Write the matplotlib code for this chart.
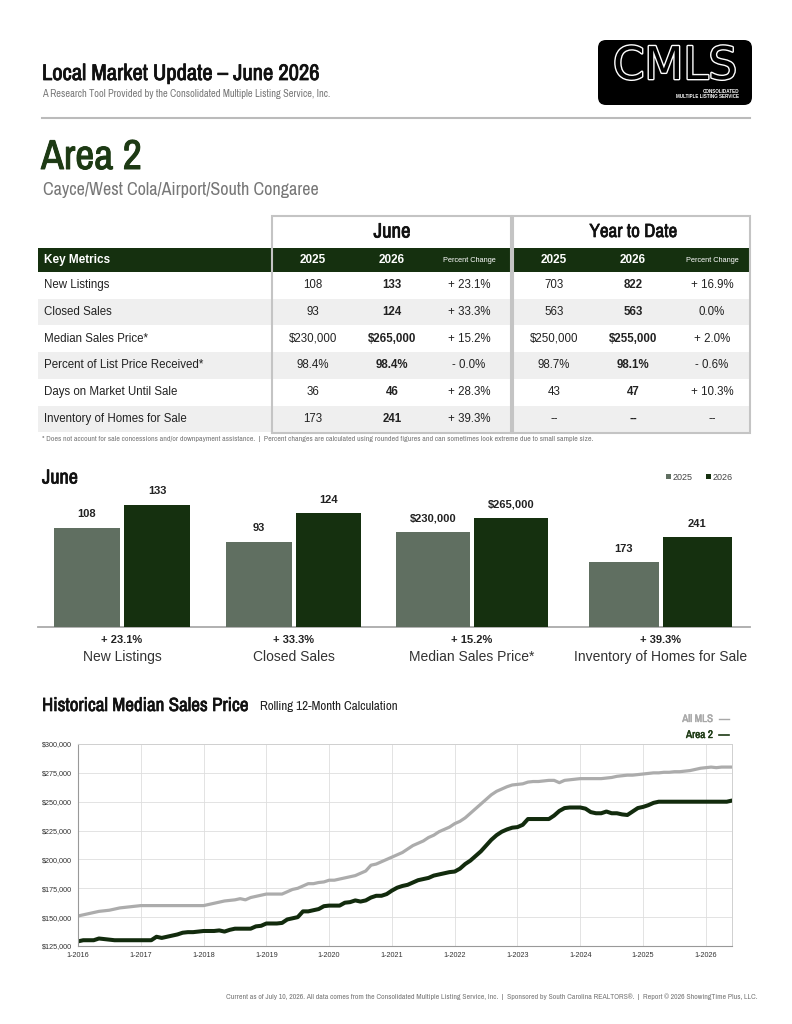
import numpy as np
import matplotlib.pyplot as plt
from matplotlib import font_manager
from matplotlib.font_manager import FontProperties
from matplotlib.patches import Rectangle, FancyBboxPatch
import matplotlib.patheffects as pe

# look for a condensed face for the headings, fall back to Liberation Sans
NARROW, STRETCH = None, 'normal'
for f in font_manager.fontManager.ttflist:
    if 'Narrow' in f.name or 'Condensed' in f.name:
        NARROW = f.name
        break
if NARROW is None:
    for f in font_manager.fontManager.ttflist:
        if f.stretch in ('condensed', 'semi-condensed', 'extra-condensed'):
            NARROW, STRETCH = f.name, 'condensed'
            break
if NARROW is None:
    NARROW = 'Liberation Sans'
reg_file = font_manager.findfont(FontProperties(family=NARROW, stretch=STRETCH))
bold_file = font_manager.findfont(FontProperties(family=NARROW, stretch=STRETCH,
                                                 weight='bold'))
FAKE_BOLD = reg_file == bold_file
plt.rcParams['font.family'] = ['Liberation Sans', 'DejaVu Sans']

DKGREEN = '#15300f'
GRAYGREEN = '#606f61'
TXT = '#222222'

# ---- table data
metrics = ['New Listings', 'Closed Sales', 'Median Sales Price*',
           'Percent of List Price Received*', 'Days on Market Until Sale',
           'Inventory of Homes for Sale']
june_2025 = ['108', '93', '$230,000', '98.4%', '36', '173']
june_2026 = ['133', '124', '$265,000', '98.4%', '46', '241']
june_pct = ['+ 23.1%', '+ 33.3%', '+ 15.2%', '- 0.0%', '+ 28.3%', '+ 39.3%']
ytd_2025 = ['703', '563', '$250,000', '98.7%', '43', '--']
ytd_2026 = ['822', '563', '$255,000', '98.1%', '47', '--']
ytd_pct = ['+ 16.9%', '0.0%', '+ 2.0%', '- 0.6%', '+ 10.3%', '--']

# ---- bar chart data
bar_labels = ['New Listings', 'Closed Sales', 'Median Sales Price*',
              'Inventory of Homes for Sale']
bar_2025 = [108, 93, 230000, 173]
bar_2026 = [133, 124, 265000, 241]
bar_pct = ['+ 23.1%', '+ 33.3%', '+ 15.2%', '+ 39.3%']

# ---- historical median sales price (thousands), monthly 1-2016 .. 6-2026
all_mls = [151, 152, 153, 154, 155, 155.5, 156, 157, 158, 158.5, 159, 159.5,
           160, 160, 160, 160, 160, 160, 160, 160, 160, 160, 160, 160,
           160, 161, 162, 163, 164, 164.5, 165, 166, 165, 167, 168, 169,
           170, 170, 170, 170, 172, 174, 175, 177, 179, 179, 180, 180.5,
           182, 182, 183, 184, 185, 186, 188, 190, 195, 196, 198, 200,
           202, 204, 206, 209, 212, 214, 216, 219, 221, 224, 226, 228,
           231, 233, 236, 240, 244, 248, 252, 256, 259, 261, 263, 264.5,
           265, 265.5, 267, 267.5, 267.5, 268, 268.5, 268.5, 266.5, 268.5, 269, 269.5,
           270, 270, 270, 270, 270, 270.5, 271, 272, 272.5, 273, 273, 273.5,
           274, 274.5, 275, 275, 275.5, 275.5, 276, 276, 276.5, 277, 278, 279,
           279.5, 280, 279.5, 280, 280, 280]
area2 = [129, 130, 130, 130, 131.5, 131, 130.5, 130, 130, 130, 130, 130,
         130, 130, 130, 133, 132, 133, 134, 135, 136.5, 137, 137, 137.5,
         138, 138, 138, 138.5, 137.5, 139, 140, 140, 140, 140, 142, 142.5,
         144.5, 144.5, 144.5, 145, 148, 149, 150, 155, 155, 156, 157, 159.5,
         160, 160, 160, 162.5, 163, 164.5, 163.5, 164.5, 167, 168.5, 168.5, 170,
         173, 175.5, 177, 178, 180, 182, 183, 184, 186, 187, 188, 189,
         189.5, 192, 196, 199, 203, 207, 212, 217, 221, 224, 226, 227.5,
         228, 230, 235, 235, 235, 235, 235, 238, 242, 244.5, 245, 245,
         245, 244, 241, 240, 240, 241.5, 240, 240, 239, 238.5, 241.5, 244.5,
         245.5, 247, 249, 250, 250, 250, 250, 250, 250, 250, 250, 250,
         250, 250, 250, 250, 250, 251]
year_ticks = list(range(2016, 2027))

fig = plt.figure(figsize=(7.92, 10.24), dpi=100)
renderer = fig.canvas.get_renderer()
bg = fig.add_axes([0, 0, 1, 1])
bg.set_xlim(0, 792)
bg.set_ylim(1024, 0)
bg.axis('off')


def T(x, y, s, **kw):
    kw.setdefault('va', 'center')
    kw.setdefault('color', TXT)
    return bg.text(x, y, s, **kw)


def N(x, y, s, width, bold=False, **kw):
    # condensed heading text, sized so it spans `width` pixels like the reference
    t = T(x, y, s, family=NARROW, fontstretch=STRETCH, fontsize=10,
          weight='bold' if bold else 'normal', **kw)
    w = t.get_window_extent(renderer).width
    size = 10 * width / w
    t.set_fontsize(size)
    if bold and FAKE_BOLD:
        t.set_path_effects([pe.withStroke(linewidth=min(size * 0.035, 0.7),
                                          foreground=t.get_color())])
    return t


# header
N(42, 74, 'Local Market Update – June 2026', 278, bold=True, color='#111111')
N(42, 94, 'A Research Tool Provided by the Consolidated Multiple Listing Service, Inc.',
  290, color='#777777')
bg.plot([42, 750], [118, 118], color='#bbbbbb', lw=1.5)

# logo
bg.add_patch(FancyBboxPatch((598, 40), 154, 65, boxstyle='round,pad=0,rounding_size=8',
                            fc='black', ec='none'))
t = T(613, 88, 'CMLS', va='bottom', family='DejaVu Sans', fontsize=28, color='black',
      path_effects=[pe.withStroke(linewidth=2.0, foreground='white')])
t.set_fontsize(28 * 124 / t.get_window_extent(renderer).width)
T(739, 91.5, 'CONSOLIDATED', ha='right', fontsize=3.3, weight='bold', color='white')
T(739, 97, 'MULTIPLE LISTING SERVICE', ha='right', fontsize=3.3, weight='bold',
  color='white')

# area title
N(41, 157, 'Area 2', 101, bold=True, color='#1d3a14')
N(43, 190, 'Cayce/West Cola/Airport/South Congaree', 276, color='#777777')

# ---- table
row_top = 272
row_h = 26.7
for i in range(len(metrics)):
    if i % 2 == 1:
        bg.add_patch(Rectangle((38, row_top + i * row_h), 712, row_h, fc='#efefef', ec='none'))
bg.add_patch(Rectangle((38, 248), 712, 24, fc=DKGREEN, ec='none'))
for x0, x1 in [(272, 511), (513, 750)]:
    bg.add_patch(Rectangle((x0, 216), x1 - x0, 433 - 216, fc='none', ec='#c4c4c4', lw=1.5))
N(392, 232, 'June', 37, bold=True, ha='center', color='#111111')
N(633, 232, 'Year to Date', 88, bold=True, ha='center', color='#111111')
T(44, 260, 'Key Metrics', weight='bold', fontsize=8.5, color='white')
col_x = [313, 392, 469, 554, 633, 712]
for cx, s in zip(col_x, ['2025', '2026', 'Percent Change'] * 2):
    if s == 'Percent Change':
        T(cx, 260, s, ha='center', fontsize=5.3, color='white')
    else:
        T(cx, 260, s, ha='center', weight='bold', fontsize=8.5, color='white')
for i, m in enumerate(metrics):
    y = row_top + (i + 0.5) * row_h
    T(44, y, m, fontsize=8.3)
    vals = [june_2025[i], june_2026[i], june_pct[i], ytd_2025[i], ytd_2026[i], ytd_pct[i]]
    for j, (cx, v) in enumerate(zip(col_x, vals)):
        T(cx, y, v, ha='center', fontsize=8.3, weight='bold' if j in (1, 4) else 'normal')
N(42, 439, '* Does not account for sale concessions and/or downpayment assistance.  |  '
  'Percent changes are calculated using rounded figures and can sometimes look extreme '
  'due to small sample size.', 548, color='#777777')

# ---- June bar chart
N(42, 478, 'June', 36, bold=True, color='#111111')
bg.add_patch(Rectangle((666, 474), 5, 5, fc=GRAYGREEN, ec='none'))
T(673, 477, '2025', fontsize=6.5, color='#444444')
bg.add_patch(Rectangle((706, 474), 5, 5, fc=DKGREEN, ec='none'))
T(713, 477, '2026', fontsize=6.5, color='#444444')

base_y = 627
top_y = 480
group_left = [54, 226, 396, 589]
group_right = [190, 361, 548, 732]
group_ymax = [160, 160, 357000, 394]
for g in range(4):
    W = group_right[g] - group_left[g]
    w = (W - 4) / (W + 4)
    ax = fig.add_axes([group_left[g] / 792, 1 - base_y / 1024, W / 792,
                       (base_y - top_y) / 1024])
    ax.patch.set_alpha(0)
    vals = [bar_2025[g], bar_2026[g]]
    ax.bar([0, 1], vals, width=w, color=[GRAYGREEN, DKGREEN])
    ax.set_xlim(-w / 2, 1 + w / 2)
    ax.set_ylim(0, group_ymax[g])
    ax.axis('off')
    for xi, v in zip([0, 1], vals):
        lab = f'${v:,.0f}' if v > 10000 else f'{v}'
        ax.annotate(lab, (xi, v), xytext=(0, 6), textcoords='offset points',
                    ha='center', va='bottom', fontsize=8, weight='bold', color=TXT)
    cx = (group_left[g] + group_right[g]) / 2
    T(cx, 640, bar_pct[g], ha='center', fontsize=8, weight='bold')
    T(cx, 657, bar_labels[g], ha='center', fontsize=10, color='#333333')
bg.plot([38, 750], [base_y, base_y], color='#aaaaaa', lw=1.3)

# ---- Historical median sales price
N(42, 706, 'Historical Median Sales Price', 208, bold=True, color='#111111')
N(260, 707, 'Rolling 12-Month Calculation', 139, color='#222222')
N(713, 719, 'All MLS', 31, bold=True, ha='right', color='#a8a8a8')
N(713, 735, 'Area 2', 27, bold=True, ha='right', color='#1d3a14')
bg.plot([719, 729], [719, 719], color='#a8a8a8', lw=1)
bg.plot([719, 729], [735, 735], color='#1d3a14', lw=1.2)

lx = fig.add_axes([78 / 792, 1 - 946 / 1024, (732 - 78) / 792, (946 - 744) / 1024])
months = 2016 + np.arange(len(area2)) / 12
lx.plot(months, np.array(all_mls) * 1000, color='#acacac', lw=2.3, solid_capstyle='round')
lx.plot(months, np.array(area2) * 1000, color='#122b0d', lw=2.9, solid_capstyle='round')
lx.set_xlim(2016, months[-1])
lx.set_ylim(125000, 300000)
lx.set_yticks(np.arange(125000, 300001, 25000))
lx.set_yticklabels([f'${v:,.0f}' for v in np.arange(125000, 300001, 25000)])
lx.set_xticks(year_ticks)
lx.set_xticklabels([f'1-{y}' for y in year_ticks])
lx.grid(True, color='#dedede', lw=0.6)
lx.set_axisbelow(True)
lx.tick_params(length=0, labelsize=5.2, colors='#333333', pad=4)
for s in ['top', 'right']:
    lx.spines[s].set_color('#d0d0d0')
    lx.spines[s].set_linewidth(0.7)
for s in ['left', 'bottom']:
    lx.spines[s].set_color('#999999')
    lx.spines[s].set_linewidth(0.8)

# footer
N(758, 997, 'Current as of July 10, 2026. All data comes from the Consolidated Multiple '
  'Listing Service, Inc.  |  Sponsored by South Carolina REALTORS®.  |  Report © 2026 '
  'ShowingTime Plus, LLC.', 530, ha='right', color='#777777')

fig.savefig('out.png', dpi=100)
